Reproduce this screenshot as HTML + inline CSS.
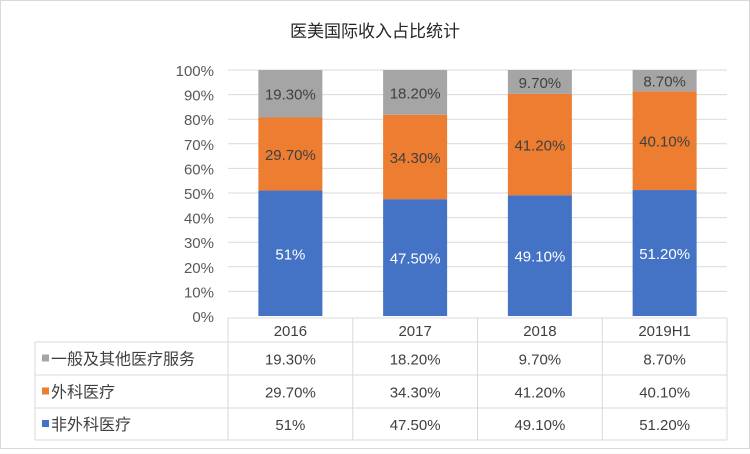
<!DOCTYPE html>
<html><head><meta charset="utf-8"><style>
html,body{margin:0;padding:0;background:#fff}
body{width:750px;height:449px;overflow:hidden;font-family:"Liberation Sans","Noto Sans CJK SC",sans-serif}
svg text{font-family:"Liberation Sans","Noto Sans CJK SC",sans-serif}
</style></head><body>
<svg id="chart" width="750" height="449" xmlns="http://www.w3.org/2000/svg">
<rect x="0.5" y="0.5" width="749" height="448" fill="#fff" stroke="#d9d9d9"/>
<text x="375" y="37" text-anchor="middle" font-size="17" fill="#262626">医美国际收入占比统计</text>
<g id="grid"></g><g id="bars"></g><g id="table"></g>
</svg>
<script>
const categories=["2016","2017","2018","2019H1"];
const seriesNames=["一般及其他医疗服务","外科医疗","非外科医疗"];
const nonSurgical=[51,47.5,49.1,51.2];
const surgical=[29.7,34.3,41.2,40.1];
const general=[19.3,18.2,9.7,8.7];
const nonSurgicalLabels=["51%","47.50%","49.10%","51.20%"];
const surgicalLabels=["29.70%","34.30%","41.20%","40.10%"];
const generalLabels=["19.30%","18.20%","9.70%","8.70%"];
const yTicks=[0,10,20,30,40,50,60,70,80,90,100];

const NS="http://www.w3.org/2000/svg";
const X0=228,X1=727,Y0=316,Y1=70;
const step=(X1-X0)/categories.length;
const barW=64;
const y=v=>Y0-(v/100)*(Y0-Y1);
const xc=i=>X0+step*(i+0.5);
function mk(tag,attrs,parent,text){const e=document.createElementNS(NS,tag);for(const k in attrs)e.setAttribute(k,attrs[k]);if(text!==undefined)e.textContent=text;parent.appendChild(e);return e;}
const grid=document.getElementById('grid'),bars=document.getElementById('bars'),table=document.getElementById('table');
yTicks.forEach(t=>{
  if(t>0){const l=mk('line',{x1:X0,x2:X1,y1:y(t),y2:y(t),stroke:'#d9d9d9','stroke-width':1},grid);
  
  }
  const tx=mk('text',{x:214,y:y(t)+6,'text-anchor':'end','font-size':15,fill:'#595959'},grid,t+'%');
  
  
});
const colors=['#a5a5a5','#ed7d31','#4472c4'];
const stacks=[[nonSurgical,nonSurgicalLabels,'#4472c4','#fff','non-surgical'],[surgical,surgicalLabels,'#ed7d31','#404040','surgical'],[general,generalLabels,'#a5a5a5','#404040','general']];
categories.forEach((c,i)=>{
  let base=0;
  stacks.forEach(s=>{
    const v=s[0][i];
    const r=mk('rect',{x:xc(i)-barW/2,y:y(base+v),width:barW,height:y(base)-y(base+v),fill:s[2]},bars);
    
    
    const t=mk('text',{x:xc(i),y:(y(base)+y(base+v))/2+6,'text-anchor':'middle','font-size':15,fill:s[3]},bars,s[1][i]);
    
    
    base+=v;
  });
});
// table
const rows=[318,342,375,408,440];
const L=35;
const ln=(x1,y1,x2,y2)=>{const l=mk('line',{x1,y1,x2,y2,stroke:'#d9d9d9','stroke-width':1},table);};
ln(X0,rows[0],X1,rows[0]);
for(let r=1;r<rows.length;r++)ln(L,rows[r],X1,rows[r]);
ln(L,rows[1],L,rows[4]);
for(let i=0;i<=categories.length;i++)ln(X0+step*i,rows[0],X0+step*i,rows[4]);
categories.forEach((c,i)=>{
  const t=mk('text',{x:xc(i),y:rows[0]+18,'text-anchor':'middle','font-size':15,fill:'#404040'},table,c);
  
  
});
const tableData=[generalLabels,surgicalLabels,nonSurgicalLabels];
seriesNames.forEach((n,r)=>{
  const cy=(rows[r+1]+rows[r+2])/2;
  const sw=mk('rect',{x:L+7,y:cy-4,width:7,height:7,fill:colors[r]},table);
  
  
  const t=mk('text',{x:L+16,y:cy+6,'font-size':16,fill:'#404040'},table,n);
  
  
  tableData[r].forEach((v,i)=>{
    const c=mk('text',{x:xc(i),y:cy+6,'text-anchor':'middle','font-size':15,fill:'#404040'},table,v);
    
    
  });
});
</script>
</body></html>
